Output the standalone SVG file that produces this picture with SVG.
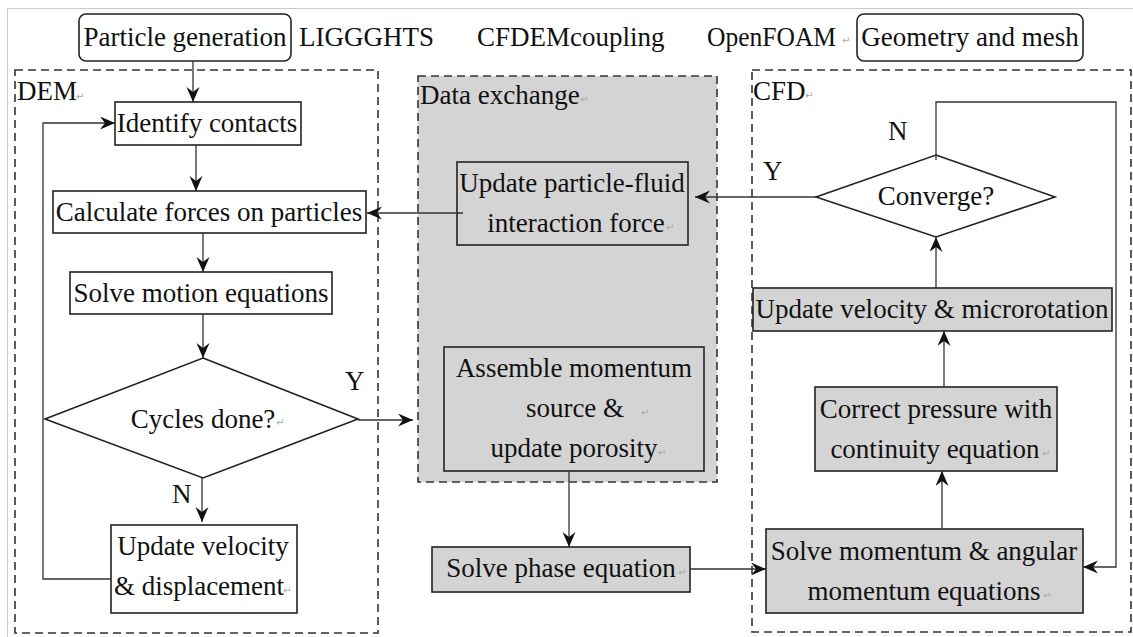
<svg xmlns="http://www.w3.org/2000/svg" width="1133" height="637" viewBox="0 0 1133 637">
<style>
text{font-family:'Liberation Serif','Times New Roman','DejaVu Serif',serif;font-size:27px;fill:#111}
.c{text-anchor:middle}
.pm{font-family:'DejaVu Sans',sans-serif;font-size:10px;fill:#aaa}
.box{fill:#fff;stroke:#222;stroke-width:1.6}
.gbox{fill:#d4d4d4;stroke:#222;stroke-width:1.6}
.dash{fill:none;stroke:#333;stroke-width:1.6;stroke-dasharray:8,5}
.conn{fill:none;stroke:#333;stroke-width:1.3}
.arr{marker-end:url(#ah)}
</style>
<defs>
<marker id="ah" markerUnits="userSpaceOnUse" markerWidth="16" markerHeight="14" refX="15" refY="6.5" orient="auto">
<path d="M0,0 L15,6.5 L0,13 L5,6.5 z" fill="#111"/>
</marker>
</defs>
<rect width="1133" height="637" fill="#fff"/>
<rect x="7.5" y="8.5" width="1135" height="640" fill="none" stroke="#999" stroke-width="1" stroke-dasharray="1,1"/>

<g font-family="Liberation Serif, serif">
<g id="dem-group">
<rect x="15" y="70" width="363" height="563" class="dash"/>
<text x="17" y="100">DEM</text><text class="pm" x="76" y="100">↵</text>
</g>
<g id="data-exchange-group">
<rect x="418" y="76" width="299" height="406" fill="#d4d4d4" stroke="#333" stroke-width="1.6" stroke-dasharray="8,5"/>
<text x="420" y="104">Data exchange</text><text class="pm" x="580" y="103">↵</text>
</g>
<g id="cfd-group">
<rect x="752" y="70" width="379" height="562" class="dash"/>
<text x="753" y="100">CFD</text><text class="pm" x="805" y="99">↵</text>
</g>

<g id="titles">
<text x="299" y="46">LIGGGHTS</text>
<text x="477" y="46">CFDEMcoupling</text>
<text x="707" y="46" textLength="129" lengthAdjust="spacingAndGlyphs">OpenFOAM</text><text class="pm" x="842" y="44">↵</text>
</g>

<g id="particle-generation">
<rect x="79" y="14" width="212" height="47" rx="7" class="box"/>
<text class="c" x="185" y="46">Particle generation</text>
</g>
<g id="geometry-mesh">
<rect x="857" y="14" width="226" height="47" rx="7" class="box"/>
<text class="c" x="970" y="46">Geometry and mesh</text>
</g>

<g id="identify-contacts">
<rect x="115" y="102" width="186" height="43" class="box"/>
<text class="c" x="207" y="132">Identify contacts</text>
</g>
<g id="calculate-forces">
<rect x="53" y="191" width="313" height="42" class="box"/>
<text class="c" x="209" y="221">Calculate forces on particles</text>
</g>
<g id="solve-motion">
<rect x="70" y="272" width="262" height="42" class="box"/>
<text class="c" x="201" y="302">Solve motion equations</text>
</g>
<g id="cycles-done">
<polygon points="203,358 358,419 203,478 45,419" class="box"/>
<text class="c" x="203" y="428">Cycles done?</text><text class="pm" x="276" y="426">↵</text>
</g>
<g id="update-velocity-displacement">
<rect x="111" y="525" width="186" height="88" class="box"/>
<text class="c" x="203" y="555">Update velocity</text>
<text class="c" x="199" y="595">&amp; displacement</text><text class="pm" x="283" y="594">↵</text>
</g>

<g id="update-interaction-force">
<rect x="457" y="162" width="231" height="83" class="box" style="fill:none"/>
<text class="c" x="572" y="192">Update particle-fluid</text>
<text class="c" x="576" y="232">interaction force</text><text class="pm" x="666" y="231">↵</text>
</g>
<g id="assemble-momentum">
<rect x="444" y="347" width="260" height="124" class="box" style="fill:none"/>
<text class="c" x="574" y="377">Assemble momentum</text>
<text class="c" x="575" y="417">source &amp;</text><text class="pm" x="641" y="416">↵</text>
<text class="c" x="574" y="457">update porosity</text><text class="pm" x="658" y="456">↵</text>
</g>
<g id="solve-phase">
<rect x="432" y="547" width="258" height="45" class="gbox"/>
<text class="c" x="561" y="577">Solve phase equation</text><text class="pm" x="678" y="576">↵</text>
</g>

<g id="converge">
<polygon points="936,155 1055,197 936,237 816,197" class="box"/>
<text class="c" x="936" y="205">Converge?</text>
</g>
<g id="update-velocity-microrotation">
<rect x="753" y="288" width="359" height="43" class="gbox"/>
<text class="c" x="932" y="318">Update velocity &amp; microrotation</text>
</g>
<g id="correct-pressure">
<rect x="815" y="387" width="242" height="84" class="gbox"/>
<text class="c" x="936" y="418">Correct pressure with</text>
<text class="c" x="935" y="458">continuity equation</text><text class="pm" x="1042" y="457">↵</text>
</g>
<g id="solve-momentum">
<rect x="766" y="529" width="317" height="84" class="gbox"/>
<text class="c" x="924" y="560">Solve momentum &amp; angular</text>
<text class="c" x="924" y="600">momentum equations</text><text class="pm" x="1043" y="599">↵</text>
</g>

<g id="connectors">
<line x1="193" y1="61" x2="193" y2="102" class="conn arr"/>
<line x1="196" y1="145" x2="196" y2="191" class="conn arr"/>
<line x1="203" y1="233" x2="203" y2="272" class="conn arr"/>
<line x1="203" y1="314" x2="203" y2="358" class="conn arr"/>
<line x1="202" y1="478" x2="202" y2="522" class="conn arr"/>
<polyline points="111,579 43,579 43,123 115,123" class="conn arr"/>
<line x1="358" y1="420" x2="413" y2="420" class="conn arr"/>
<line x1="463" y1="213" x2="367" y2="213" class="conn arr"/>
<line x1="816" y1="197" x2="695" y2="197" class="conn arr"/>
<line x1="569" y1="471" x2="569" y2="547" class="conn arr"/>
<line x1="690" y1="569" x2="766" y2="569" class="conn arr"/>
<line x1="942" y1="529" x2="942" y2="471" class="conn arr"/>
<line x1="944" y1="387" x2="944" y2="331" class="conn arr"/>
<line x1="936" y1="288" x2="936" y2="237" class="conn arr"/>
<polyline points="936,160 936,102 1116,102 1116,567 1083,567" class="conn arr"/>
<text x="345" y="390">Y</text>
<text x="172" y="503">N</text>
<text x="763" y="180">Y</text>
<text x="888" y="140">N</text>
</g>
</g>
</svg>
